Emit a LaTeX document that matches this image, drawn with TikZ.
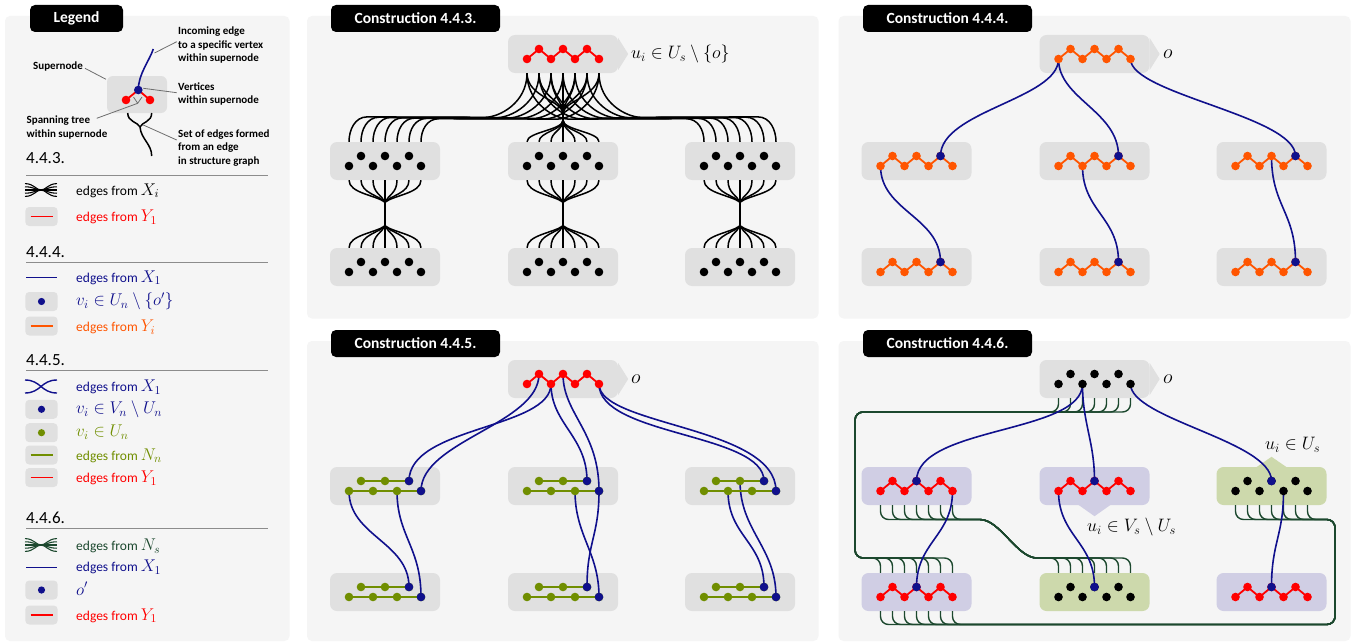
\RequirePackage{fix-cm}
\documentclass[tikz,border=0pt]{standalone}
\usepackage[no-math]{fontspec}
\setmainfont{Carlito}
\usetikzlibrary{calc}
\definecolor{panelbg}{RGB}{245,245,245}
\definecolor{boxgray}{RGB}{224,224,224}
\definecolor{boxlav}{RGB}{208,206,228}
\definecolor{boxgrn}{RGB}{205,217,172}
\definecolor{myred}{RGB}{255,0,0}
\definecolor{myorange}{RGB}{255,85,0}
\definecolor{mynavy}{RGB}{16,16,140}
\definecolor{myolive}{RGB}{112,142,0}
\definecolor{mydkgreen}{RGB}{28,72,46}
\definecolor{leadgray}{RGB}{110,110,110}
\definecolor{hdgray}{RGB}{140,140,140}

\newcommand\SNode[4]{%
  \node[sbox, fill=#4] (#1) at (#2,#3) {};
  \foreach \ii in {0,...,6}{%
    \pgfmathsetmacro\SNx{#2-36+12*\ii}%
    \pgfmathsetmacro\SNy{#3+5-10*mod(\ii,2)}%
    \coordinate (#1-\ii) at (\SNx,\SNy);}%
}
\newcommand\Zig[2]{\draw[zig,#2] (#1-0) -- (#1-1) -- (#1-2) -- (#1-3) -- (#1-4) -- (#1-5) -- (#1-6);}
\newcommand\Dots[2]{\foreach \ii in {0,...,6}{\fill[#2] (#1-\ii) circle (4.3pt);}}
\newcommand\Vx[2]{\fill[#2] (#1) circle (4.3pt);}
\newcommand\LM[1]{{\fontsize{17}{20}\selectfont$#1$}}

\begin{document}
\begin{tikzpicture}[x=1pt,y=-1pt,
  panel/.style={fill=panelbg, rounded corners=5pt},
  titlebox/.style={fill=black, rounded corners=5pt, text=white, font=\bfseries\fontsize{15.5}{18}\selectfont, inner sep=0pt, minimum height=27pt},
  sbox/.style={rectangle, rounded corners=7pt, minimum width=110pt, minimum height=38pt, inner sep=0pt},
  symb/.style={rectangle, rounded corners=4pt, minimum width=32.4pt, minimum height=19pt, inner sep=0pt, fill=boxgray},
  xb/.style={black, line width=1.5pt},
  nb/.style={mydkgreen, line width=1.4pt, rounded corners=8pt},
  bl/.style={mynavy, line width=1.6pt},
  zig/.style={line width=1.8pt},
  lt/.style={font=\bfseries\fontsize{11}{13}\selectfont, inner sep=0pt, anchor=base west},
  lrow/.style={font=\fontsize{13.5}{16}\selectfont, inner sep=0pt, anchor=base west},
  hd/.style={font=\fontsize{17}{20}\selectfont, inner sep=0pt, anchor=base west},
  hline/.style={hdgray, line width=1pt},
  lead/.style={leadgray, line width=0.8pt},
  mlbl/.style={font=\fontsize{18}{20}\selectfont, inner sep=0pt, anchor=west},
  olbl/.style={font=\fontsize{20}{22}\selectfont, inner sep=0pt, anchor=west}
]
\useasboundingbox (0,0) rectangle (1354,642);
\fill[white] (0,0) rectangle (1354,642);

% ---------- panels ----------
\fill[panel] (5,16) rectangle (289.5,641);
\fill[panel] (307,16) rectangle (818.5,318.5);
\fill[panel] (838.5,16) rectangle (1350.5,318.5);
\fill[panel] (307,341) rectangle (818.5,641);
\fill[panel] (838.5,341) rectangle (1350.5,641);

\node[titlebox, minimum width=93pt] (tL) at (76.5,18.5) {Legend};
\node[titlebox, minimum width=169pt] (tA) at (415.5,18.5) {Construction 4.4.3.};
\node[titlebox, minimum width=169pt] (tB) at (947.5,18.5) {Construction 4.4.4.};
\node[titlebox, minimum width=169pt] (tC) at (415.5,343.5) {Construction 4.4.5.};
\node[titlebox, minimum width=169pt] (tD) at (947.5,343.5) {Construction 4.4.6.};

% ---------- supernodes ----------
\SNode{a-T}{563}{54}{boxgray}
\SNode{a-L1}{385}{161}{boxgray}
\SNode{a-C1}{563}{161}{boxgray}
\SNode{a-R1}{740}{161}{boxgray}
\SNode{a-L2}{385}{267}{boxgray}
\SNode{a-C2}{563}{267}{boxgray}
\SNode{a-R2}{740}{267}{boxgray}

\SNode{b-T}{1094.5}{54}{boxgray}
\SNode{b-L1}{916.5}{161}{boxgray}
\SNode{b-C1}{1094.5}{161}{boxgray}
\SNode{b-R1}{1271.5}{161}{boxgray}
\SNode{b-L2}{916.5}{267}{boxgray}
\SNode{b-C2}{1094.5}{267}{boxgray}
\SNode{b-R2}{1271.5}{267}{boxgray}

\SNode{c-T}{563}{379}{boxgray}
\SNode{c-L1}{385}{486}{boxgray}
\SNode{c-C1}{563}{486}{boxgray}
\SNode{c-R1}{740}{486}{boxgray}
\SNode{c-L2}{385}{592}{boxgray}
\SNode{c-C2}{563}{592}{boxgray}
\SNode{c-R2}{740}{592}{boxgray}

\SNode{d-T}{1094.5}{379}{boxgray}
\SNode{d-L1}{916.5}{486}{boxlav}
\SNode{d-C1}{1094.5}{486}{boxlav}
\SNode{d-R1}{1271.5}{486}{boxgrn}
\SNode{d-L2}{916.5}{592}{boxlav}
\SNode{d-C2}{1094.5}{592}{boxgrn}
\SNode{d-R2}{1271.5}{592}{boxlav}

% arrows on supernodes
\foreach \p in {a,b,c,d}{
  \fill[boxgray] ($(\p-T.east)+(0,-16)$) -- ($(\p-T.east)+(10,0)$) -- ($(\p-T.east)+(0,16)$) -- cycle;
}
\fill[boxlav] ($(d-C1.south)+(-17,-1)$) -- ($(d-C1.south)+(0,11)$) -- ($(d-C1.south)+(17,-1)$) -- cycle;
\fill[boxgrn] ($(d-R1.north)+(-16,1)$) -- ($(d-R1.north)+(0,-10)$) -- ($(d-R1.north)+(16,1)$) -- cycle;

% labels
\node[mlbl] (la) at (631,54) {$u_i\in U_s\setminus\{o\}$};
\node[olbl] (lb) at (1163,54) {$o$};
\node[olbl] (lc) at (631,379) {$o$};
\node[olbl] (ld) at (1163,379) {$o$};
\node[mlbl] (ld2) at (1265,445) {$u_i\in U_s$};
\node[mlbl] (ld3) at (1087,527) {$u_i\in V_s\setminus U_s$};

% ---------- 4.4.3 bundles ----------
\coordinate (a-P1) at ($(a-T.south)+(0,41)$);
\coordinate (a-P2) at ($(a-T.south)+(0,47)$);
\foreach \i in {0,...,6}{
  \pgfmathsetmacro\bof{(\i-3)*0.3}
  \draw[xb] (a-T-\i |- a-T.south) .. controls +(0,30) and +(14,0) .. ($(a-T-\i |- a-T.south)+(-42,{45+\bof})$) -- ($(a-L1-\i |- a-L1.north)+(18,{-24+\bof})$) .. controls +(-12,0) and +(0,-12) .. (a-L1-\i |- a-L1.north);
  \draw[xb] (a-T-\i |- a-T.south) .. controls +(0,30) and +(-14,0) .. ($(a-T-\i |- a-T.south)+(42,{45-\bof})$) -- ($(a-R1-\i |- a-R1.north)+(-18,{-24-\bof})$) .. controls +(12,0) and +(0,-12) .. (a-R1-\i |- a-R1.north);
  \draw[xb] (a-T-\i |- a-T.south) .. controls +(0,24) and +(0,-14) .. (a-P1) -- (a-P2) .. controls +(0,10) and +(0,-10) .. (a-C1-\i |- a-C1.north);
}
\foreach \col in {L,C,R}{
  \coordinate (a-Q1\col) at ($(a-\col1.south)+(0,22)$);
  \coordinate (a-Q2\col) at ($(a-\col2.north)+(0,-22)$);
  \foreach \i in {0,...,6}{
    \pgfmathsetmacro\dd{3*(\i-3)}
    \draw[xb] (a-\col1-\i |- a-\col1.south) .. controls +(0,13) and +(\dd,-7) .. (a-Q1\col) -- (a-Q2\col) .. controls +(\dd,7) and +(0,-13) .. (a-\col2-\i |- a-\col2.north);
  }
}

% ---------- 4.4.6 bundles ----------
\coordinate (d-NW) at (855,412);
\coordinate (d-SW) at (855,558);
\coordinate (d-S1) at (972,519.5);
\coordinate (d-S2) at (1045,558);
\coordinate (d-E1) at (1335,519.5);
\coordinate (d-E2) at (1335,624.5);
\foreach \i in {0,...,6}{
  \draw[nb] (d-T-\i |- d-T.south) -- (d-T-\i |- d-NW) -- (d-NW) -- (d-SW) -- (d-L2-\i |- d-SW) -- (d-L2-\i |- d-L2.north);
  \draw[nb] (d-L1-\i |- d-L1.south) -- (d-L1-\i |- d-S1) -- (d-S1) .. controls +(28,0) and +(-28,0) .. (d-S2) -- (d-C2-\i |- d-S2) -- (d-C2-\i |- d-C2.north);
  \draw[nb] (d-R1-\i |- d-R1.south) -- (d-R1-\i |- d-E1) -- (d-E1) -- (d-E2) -- (d-L2-\i |- d-E2) -- (d-L2-\i |- d-L2.south);
}

% ---------- blue edges ----------
% 4.4.4
\draw[bl] (b-T-0) .. controls +(0,40) and +(0,-45) .. (b-L1-5);
\draw[bl] (b-T-0) .. controls +(0,40) and +(0,-45) .. (b-C1-5);
\draw[bl] (b-T-6) .. controls +(0,35) and +(0,-40) .. (b-R1-5);
\draw[bl] (b-L1-0) .. controls +(0,45) and +(0,-45) .. (b-L2-5);
\draw[bl] (b-C1-2) .. controls +(0,45) and +(0,-45) .. (b-C2-5);
\draw[bl] (b-R1-3) .. controls +(0,50) and +(0,-50) .. (b-R2-5);
% 4.4.5
\draw[bl] (c-T-1) .. controls +(0,50) and +(0,-50) .. (c-L1-6);
\draw[bl] (c-T-2) .. controls +(0,45) and +(0,-55) .. (c-L1-5);
\draw[bl] (c-T-2) .. controls +(0,40) and +(0,-45) .. (c-C1-5);
\draw[bl] (c-T-3) .. controls +(0,40) and +(0,-60) .. (c-C1-6);
\draw[bl] (c-T-6) .. controls +(0,42) and +(0,-65) .. (c-R1-6);
\draw[bl] (c-T-6) .. controls +(0,52) and +(0,-48) .. (c-R1-5);
\draw[bl] (c-L1-0) .. controls +(0,45) and +(0,-45) .. (c-L2-5);
\draw[bl] (c-L1-4) .. controls +(0,45) and +(0,-50) .. (c-L2-6);
\draw[bl] (c-C1-4) .. controls +(0,45) and +(0,-45) .. (c-C2-6);
\draw[bl] (c-C1-6) .. controls +(0,45) and +(0,-45) .. (c-C2-5);
\draw[bl] (c-R1-2) .. controls +(0,45) and +(0,-45) .. (c-R2-5);
\draw[bl] (c-R1-3) .. controls +(0,50) and +(0,-50) .. (c-R2-6);
% 4.4.6
\draw[bl] (d-T-2) .. controls +(0,50) and +(0,-55) .. (d-L1-3);
\draw[bl] (d-T-2) .. controls +(0,40) and +(0,-40) .. (d-C1-3);
\draw[bl] (d-T-6) .. controls +(0,35) and +(0,-40) .. (d-R1-3);
\draw[bl] (d-L1-6) .. controls +(0,45) and +(0,-45) .. (d-L2-3);
\draw[bl] (d-C1-0) .. controls +(0,45) and +(0,-45) .. (d-C2-3);
\draw[bl] (d-R1-4) .. controls +(0,45) and +(0,-45) .. (d-R2-3);

% ---------- vertices ----------
% 4.4.3
\Zig{a-T}{myred}\Dots{a-T}{myred}
\foreach \n in {L1,C1,R1,L2,C2,R2}{\Dots{a-\n}{black}}
% 4.4.4
\foreach \n in {T,L1,C1,R1,L2,C2,R2}{\Zig{b-\n}{myorange}\Dots{b-\n}{myorange}}
\foreach \n in {L1,C1,R1,L2,C2,R2}{\Vx{b-\n-5}{mynavy}}
% 4.4.5
\Zig{c-T}{myred}\Dots{c-T}{myred}
\foreach \n in {L1,C1,R1,L2,C2,R2}{
  \draw[zig,myolive] (c-\n-1) -- (c-\n-3) -- (c-\n-5);
  \draw[zig,myolive] (c-\n-0) -- (c-\n-2) -- (c-\n-4) -- (c-\n-6);
  \Dots{c-\n}{myolive}
  \Vx{c-\n-5}{mynavy}\Vx{c-\n-6}{mynavy}
}
% 4.4.6
\Dots{d-T}{black}
\foreach \n in {L1,C1,L2,R2}{\Zig{d-\n}{myred}\Dots{d-\n}{myred}\Vx{d-\n-3}{mynavy}}
\foreach \n in {R1,C2}{\Dots{d-\n}{black}\Vx{d-\n-3}{mynavy}}

% ---------- legend illustration ----------
\node[sbox, minimum width=60pt, minimum height=37pt, rounded corners=6pt, fill=boxgray] (lgbox) at (137,94.5) {};
\coordinate (lgv) at (138.3,90);
\coordinate (lgr1) at (126,100);
\coordinate (lgr2) at (150,100);
\coordinate (lgin) at (153.3,49);
\coordinate (lgb1) at (127.7,113);
\coordinate (lgb2) at (151.7,113);
\coordinate (lgbm) at (140,127);
\coordinate (lgbe) at (151.7,156);
\draw[xb] (lgb1) .. controls +(0,9) and +(-2,-5) .. (lgbm);
\draw[xb] (lgb2) .. controls +(0,9) and +(2,-5) .. (lgbm);
\draw[xb] (lgbm) .. controls +(1,12) and +(0,-12) .. (lgbe);
\draw[bl] (lgv) .. controls +(0,-16) and +(-4,12) .. (lgin);
\draw[zig,myred] (lgr1) -- (lgv) -- (lgr2);
\Vx{lgr1}{myred}\Vx{lgr2}{myred}\Vx{lgv}{mynavy}

\node[lt] (s1) at (33,70) {Supernode};
\node[lt] (s2a) at (178,35) {Incoming edge};
\node[lt] (s2b) at (178,48.5) {to a specific vertex};
\node[lt] (s2c) at (178,62) {within supernode};
\node[lt] (s3a) at (178,90) {Vertices};
\node[lt] (s3b) at (178,103.5) {within supernode};
\node[lt] (s4a) at (26.5,123) {Spanning tree};
\node[lt] (s4b) at (26.5,137) {within supernode};
\node[lt] (s5a) at (178,137) {Set of edges formed};
\node[lt] (s5b) at (178,150.5) {from an edge};
\node[lt] (s5c) at (178,164.5) {in structure graph};

\draw[lead] (85,68.3) -- (106,79.3);
\draw[lead] (154.5,53) -- (176.7,41.7);
\draw[lead] (143.3,88.3) -- (176.7,92.7);
\draw[lead] (133.5,97) -- (137.7,103.3) -- (142,97);
\draw[lead] (137.7,103.3) -- (96.7,118.3);
\draw[lead] (143.3,125) -- (176.7,140);

% ---------- legend rows ----------
\node[hd] (h1) at (26,163) {4.4.3.};
\draw[hline] (26,175.5) -- (268,175.5);
\node[hd] (h2) at (26,257.5) {4.4.4.};
\draw[hline] (26,262.7) -- (268,262.7);
\node[hd] (h3) at (26,365.5) {4.4.5.};
\draw[hline] (26,370) -- (268,370);
\node[hd] (h4) at (26,523.5) {4.4.6.};
\draw[hline] (26,528.3) -- (268,528.3);

% symbol boxes
\node[symb] (b1) at (41.5,216.5) {};
\node[symb] (b2) at (41.5,301.5) {};
\node[symb] (b3) at (41.5,326) {};
\node[symb] (b4) at (41.5,409.3) {};
\node[symb] (b5) at (41.5,432.7) {};
\node[symb] (b6) at (41.5,455) {};
\node[symb] (b7) at (41.5,477.5) {};
\node[symb] (b8) at (41.5,590) {};
\node[symb] (b9) at (41.5,615) {};
\draw[myred, line width=1.4pt] ($(b1.center)+(-11,0)$) -- ($(b1.center)+(11,0)$);
\draw[myorange, line width=1.4pt] ($(b3.center)+(-11,0)$) -- ($(b3.center)+(11,0)$);
\draw[myolive, line width=1.4pt] ($(b6.center)+(-11,0)$) -- ($(b6.center)+(11,0)$);
\draw[myred, line width=1.4pt] ($(b7.center)+(-11,0)$) -- ($(b7.center)+(11,0)$);
\draw[myred, line width=1.4pt] ($(b9.center)+(-11,0)$) -- ($(b9.center)+(11,0)$);
\fill[mynavy] (b2.center) circle (3.6pt);
\fill[mynavy] (b4.center) circle (3.6pt);
\fill[myolive] (b5.center) circle (3.6pt);
\fill[mynavy] (b8.center) circle (3.6pt);

\foreach \k in {-2,...,2}{
  \draw[black, line width=1.1pt] (25,{190+3.2*\k}) .. controls (34,{190+3.2*\k}) and (36,190) .. (41,190) .. controls (46,190) and (48,{190+3.2*\k}) .. (57,{190+3.2*\k});
  \draw[mydkgreen, line width=1.1pt] (25,{545+3.2*\k}) .. controls (34,{545+3.2*\k}) and (36,545) .. (41,545) .. controls (46,545) and (48,{545+3.2*\k}) .. (57,{545+3.2*\k});
}
\draw[bl, line width=1.4pt] (26,277.7) -- (57,277.7);
\draw[bl, line width=1.4pt] (26,567.3) -- (57,567.3);
\draw[bl, line width=1.4pt] (25,380) .. controls (41,380) and (41,393) .. (57,393);
\draw[bl, line width=1.4pt] (25,393) .. controls (41,393) and (41,380) .. (57,380);

\node[lrow] (r1) at (76,195) {edges from \LM{X_i}};
\node[lrow, text=myred] (r2) at (76,221.5) {edges from \LM{Y_1}};
\node[lrow, text=mynavy] (r3) at (76,282.3) {edges from \LM{X_1}};
\node[lrow, text=mynavy] (r4) at (76,305.5) {\LM{v_i\in U_n\setminus\{o'\}}};
\node[lrow, text=myorange] (r5) at (76,331.5) {edges from \LM{Y_i}};
\node[lrow, text=mynavy] (r6) at (76,391.5) {edges from \LM{X_1}};
\node[lrow, text=mynavy] (r7) at (76,413.5) {\LM{v_i\in V_n\setminus U_n}};
\node[lrow, text=myolive] (r8) at (76,436.7) {\LM{v_i\in U_n}};
\node[lrow, text=myolive] (r9) at (76,460) {edges from \LM{N_n}};
\node[lrow, text=myred] (r10) at (76,482.5) {edges from \LM{Y_1}};
\node[lrow, text=mydkgreen] (r11) at (76,550.5) {edges from \LM{N_s}};
\node[lrow, text=mynavy] (r12) at (76,571.7) {edges from \LM{X_1}};
\node[lrow, text=mynavy] (r13) at (76,595) {\LM{o'}};
\node[lrow, text=myred] (r14) at (76,620) {edges from \LM{Y_1}};
\end{tikzpicture}
\end{document}
